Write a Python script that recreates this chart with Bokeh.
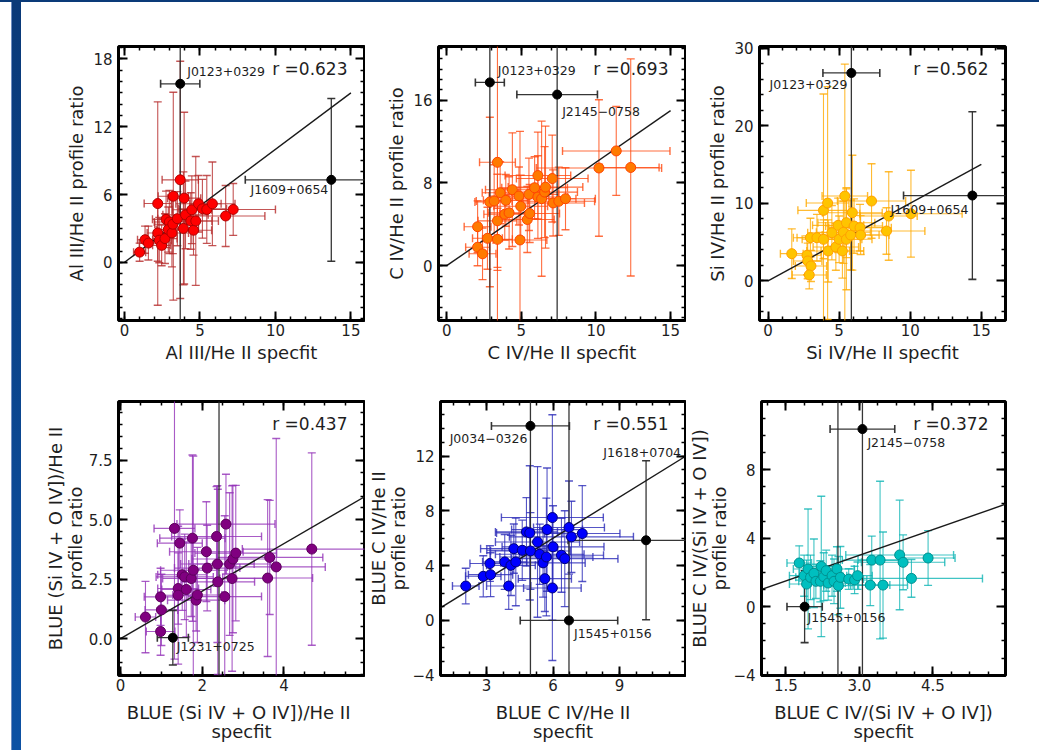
import numpy as np
from bokeh.plotting import figure
from bokeh.models import (Range1d, SingleIntervalTicker, LinearAxis, Label, Div, ColumnDataSource,
                          PrintfTickFormatter)
from bokeh.layouts import row, column
from bokeh.embed import file_html
from bokeh.resources import INLINE

FONT = "DejaVu Sans"
TXT = "#1e1e1e"

# ---------------- data ----------------
# Panel 1: Al III / He II
p1_x = [1.00, 1.36, 1.58, 2.20, 2.20, 2.30, 2.46, 2.68, 2.75, 2.97, 2.90, 3.14, 3.20, 3.23, 3.50,
        3.69, 3.90, 3.95, 4.04, 4.39, 4.46, 4.57, 4.72, 4.90, 5.16, 5.45, 5.82, 6.70, 7.20]
p1_y = [0.90, 2.00, 1.70, 5.20, 2.60, 1.96, 1.50, 2.10, 3.80, 3.57, 2.90, 2.60, 3.37, 5.85, 3.86,
        7.30, 3.00, 5.68, 4.20, 3.66, 4.65, 2.84, 3.66, 5.18, 4.74, 4.68, 5.18, 4.10, 4.68]
p1_xerr = [0.4, 0.5, 0.6, 0.9, 0.7, 0.8, 0.6, 0.8, 0.9, 1.0, 0.8, 1.1, 1.2, 1.0, 1.3,
           1.2, 1.0, 1.1, 1.5, 1.4, 1.3, 1.2, 1.5, 1.5, 1.6, 1.8, 1.5, 2.6, 2.8]
p1_yerr = [0.8, 1.2, 1.5, 9.0, 2.5, 2.0, 1.8, 2.2, 2.5, 2.8, 2.0, 3.0, 2.6, 9.2, 2.4,
           10.5, 5.0, 7.6, 3.0, 2.5, 3.0, 2.2, 5.7, 2.5, 2.6, 3.0, 3.7, 2.7, 2.3]
p1_out_x = [3.69, 13.70]
p1_out_y = [15.80, 7.30]
p1_out_xerr = [1.30, 5.70]
p1_out_yerr = [25.0, 7.20]
p1_out_name = ["J0123+0329", "J1609+0654"]

# Panel 2: C IV / He II
p2_x = [2.07, 2.07, 2.40, 2.73, 2.89, 3.18, 3.40, 3.40, 3.40, 3.58, 3.89, 3.96, 4.18, 4.40, 4.84,
        4.91, 4.96, 5.40, 5.56, 5.51, 5.89, 6.11, 6.11, 6.36, 6.56, 6.62, 7.07, 7.13, 7.51, 7.96,
        10.20, 11.36, 12.33]
p2_y = [3.77, 1.79, 1.15, 2.65, 6.16, 6.26, 10.00, 4.34, 2.55, 7.06, 4.98, 6.32, 5.11, 7.35, 6.74,
        2.49, 5.75, 4.47, 5.05, 6.90, 7.54, 8.72, 6.64, 6.48, 7.12, 7.60, 8.43, 6.07, 6.23, 6.48,
        9.45, 11.10, 9.50]
p2_xerr = [0.9, 0.8, 0.9, 1.0, 1.0, 1.2, 1.2, 1.3, 1.0, 1.2, 1.4, 1.5, 1.4, 1.8, 2.0,
           1.8, 1.8, 1.8, 2.0, 2.0, 2.2, 2.2, 2.0, 2.3, 2.2, 2.5, 2.4, 2.1, 2.4, 2.0,
           4.2, 3.6, 1.9]
p2_yerr = [2.5, 1.8, 2.5, 3.0, 8.2, 3.5, 16.0, 4.5, 3.0, 3.0, 2.5, 2.5, 3.5, 5.5, 2.8,
           10.5, 3.0, 3.2, 2.8, 3.5, 3.0, 4.2, 4.0, 7.5, 4.4, 5.9, 4.2, 3.2, 3.3, 3.0,
           6.6, 4.3, 10.5]
p2_out_x = [2.89, 7.40]
p2_out_y = [17.73, 16.55]
p2_out_xerr = [0.97, 2.70]
p2_out_yerr = [30.0, 30.0]
p2_out_name = ["J0123+0329", "J2145\u22120758"]

# Panel 3: Si IV / He II
p3_x = [1.67, 2.74, 2.79, 2.98, 3.02, 2.90, 3.44, 3.90, 3.90, 4.19, 4.23, 4.49, 4.77, 4.93, 5.00,
        5.23, 5.30, 5.40, 5.51, 5.51, 5.81, 5.93, 6.05, 6.47, 6.51, 7.28, 8.33, 8.49, 10.05]
p3_y = [3.51, 3.30, 2.57, 5.57, 1.93, 0.77, 5.57, 9.09, 5.36, 10.03, 3.86, 6.21, 4.37, 7.16, 5.36,
        3.86, 6.26, 10.93, 7.50, 5.36, 5.91, 8.79, 7.07, 6.86, 5.91, 10.29, 6.43, 8.36, 8.66]
p3_xerr = [0.8, 1.0, 1.0, 1.2, 1.1, 1.2, 1.4, 1.8, 1.5, 1.5, 1.5, 1.7, 1.6, 1.8, 1.6,
           1.5, 1.9, 1.6, 2.0, 1.8, 2.0, 2.1, 2.0, 2.2, 2.0, 2.4, 2.7, 2.0, 3.6]
p3_yerr = [3.2, 2.5, 2.3, 2.5, 2.0, 1.8, 3.0, 15.0, 2.5, 15.0, 4.0, 3.5, 3.0, 3.5, 3.0,
           3.5, 4.0, 17.0, 4.5, 6.5, 4.5, 7.4, 3.5, 3.0, 2.5, 4.8, 3.0, 5.7, 5.6]
p3_out_x = [5.86, 14.37]
p3_out_y = [26.79, 11.00]
p3_out_xerr = [2.00, 4.84]
p3_out_yerr = [40.0, 10.8]
p3_out_name = ["J0123+0329", "J1609+0654"]

# Panel 4: BLUE (Si IV + O IV]) / He II
p4_x = [0.61, 0.98, 1.00, 0.98, 1.32, 1.45, 1.41, 1.41, 1.51, 1.57, 1.61, 1.73, 1.76, 1.78, 1.85,
        1.88, 2.10, 2.12, 2.35, 2.38, 2.37, 2.55, 2.58, 2.67, 2.73, 2.75, 2.82, 3.60, 3.65, 3.81,
        4.68]
p4_y = [0.91, 1.76, 1.21, 0.30, 4.64, 4.02, 2.11, 1.83, 2.69, 2.60, 2.07, 2.53, 4.23, 2.88, 1.62,
        1.84, 3.66, 2.97, 4.30, 2.39, 3.14, 1.77, 4.82, 3.14, 2.53, 3.35, 3.60, 2.55, 3.42, 3.02,
        3.77]
p4_xerr = [0.25, 0.4, 0.4, 0.35, 0.5, 0.55, 0.5, 0.5, 0.6, 0.7, 0.6, 0.7, 0.8, 0.8, 0.7,
           0.6, 0.9, 0.8, 1.1, 0.9, 0.9, 0.9, 1.2, 1.0, 0.9, 1.0, 1.0, 1.1, 1.3, 1.2,
           1.7]
p4_yerr = [1.5, 1.2, 1.5, 1.0, 5.5, 1.4, 1.5, 2.9, 1.5, 1.8, 2.0, 1.6, 3.5, 4.8, 1.3,
           2.0, 2.1, 1.8, 2.1, 3.9, 3.3, 3.4, 2.1, 3.0, 3.9, 3.1, 2.85, 3.3, 2.4, 5.4,
           4.05]
p4_out_x = [1.28, 2.41]
p4_out_y = [0.04, 11.0]
p4_out_xerr = [0.38, 0.30]
p4_out_yerr = [1.15, 14.0]
p4_out_name = ["J1231+0725", ""]

# Panel 5: BLUE C IV / He II
p5_x = [2.06, 2.85, 3.15, 3.18, 3.82, 4.00, 4.10, 4.23, 4.32, 4.61, 4.80, 4.95, 4.98, 5.30, 5.40,
        5.55, 5.63, 5.70, 5.73, 5.97, 6.00, 5.97, 6.38, 6.53, 6.72, 6.83, 7.32]
p5_y = [2.51, 3.22, 4.15, 3.34, 4.27, 2.51, 4.02, 5.24, 4.27, 5.12, 6.46, 6.39, 5.07, 5.73, 4.83,
        4.20, 3.05, 4.63, 6.63, 7.51, 5.37, 2.37, 4.76, 4.51, 6.78, 6.10, 6.34]
p5_xerr = [0.6, 0.8, 0.9, 1.0, 1.0, 1.0, 1.1, 1.5, 1.2, 1.6, 1.4, 1.5, 1.8, 1.9, 2.0,
           1.9, 1.2, 2.1, 1.6, 2.3, 2.3, 1.3, 1.9, 2.4, 1.6, 2.8, 1.7]
p5_yerr = [1.3, 1.5, 1.3, 1.6, 2.0, 1.7, 2.2, 1.8, 3.2, 2.2, 2.5, 4.9, 2.8, 5.5, 2.2,
           2.5, 2.4, 4.3, 4.5, 7.5, 3.0, 5.3, 2.7, 3.5, 3.4, 2.6, 3.5]
p5_out_x = [4.98, 6.72, 10.20]
p5_out_y = [14.20, 0.00, 5.85]
p5_out_xerr = [1.76, 2.20, 3.52]
p5_out_yerr = [25.0, 25.0, 5.80]
p5_out_name = ["J0034\u22120326", "J1545+0156", "J1618+0704"]

# Panel 6: BLUE C IV / (Si IV + O IV])
p6_x = [1.77, 1.87, 1.92, 1.95, 2.00, 2.07, 2.11, 2.22, 2.20, 2.27, 2.32, 2.36, 2.44, 2.48, 2.54,
        2.57, 2.61, 2.78, 2.90, 2.96, 3.22, 3.25, 3.42, 3.48, 3.82, 3.89, 4.06, 4.40]
p6_y = [2.55, 1.81, 1.32, 2.20, 1.71, 1.95, 1.48, 2.35, 1.48, 1.75, 2.10, 1.38, 1.81, 1.48, 2.20,
        1.23, 1.71, 1.61, 1.56, 1.81, 1.26, 2.72, 2.72, 1.26, 3.02, 2.59, 1.65, 2.84]
p6_xerr = [0.25, 0.3, 0.35, 0.3, 0.3, 0.3, 0.35, 0.35, 0.3, 0.35, 0.3, 0.35, 0.3, 0.3, 0.35,
           0.3, 0.3, 0.3, 0.25, 0.3, 0.4, 0.6, 0.45, 0.5, 1.1, 0.85, 1.45, 0.55]
p6_yerr = [1.0, 1.2, 1.4, 3.5, 1.3, 2.0, 1.0, 4.1, 1.2, 1.4, 1.2, 1.0, 1.2, 1.3, 1.3,
           1.7, 1.8, 0.6, 0.8, 0.8, 1.2, 1.4, 4.6, 3.1, 3.2, 1.6, 1.1, 1.6]
p6_out_x = [3.06, 1.88, 2.56]
p6_out_y = [10.37, 0.00, 13.5]
p6_out_xerr = [0.66, 0.36, 0.30]
p6_out_yerr = [20.0, 2.10, 20.0]
p6_out_name = ["J2145\u22120758", "J1545+0156", ""]

r_values = ["0.623", "0.693", "0.562", "0.437", "0.551", "0.372"]
x_labels = ["Al III/He II specfit", "C IV/He II specfit", "Si IV/He II specfit",
            "BLUE  (Si IV + O IV])/He II\nspecfit", "BLUE C IV/He II\nspecfit",
            "BLUE C IV/(Si IV + O IV])\nspecfit"]
y_labels = ["Al III/He II profile ratio", "C IV/He II profile ratio", "Si IV/He II profile ratio",
            "BLUE (Si IV + O IV])/He II\nprofile ratio", "BLUE C IV/He II\nprofile ratio",
            "BLUE C IV/(Si IV + O IV])\nprofile ratio"]
one_to_one = [[0, 15], [0, 15], [0, 15], [0, 6], [0, 12], [0, 6]]

# ---------------- styles ----------------
styles = [
    dict(fill="#ff0000", edge="#b00000", ecol="#b52a2a"),
    dict(fill="#ff7a00", edge="#ff4500", ecol="#ff4a10"),
    dict(fill="#ffc400", edge="#ffa000", ecol="#ffaa00"),
    dict(fill="#800080", edge="#5c005c", ecol="#9432b8"),
    dict(fill="#0000ff", edge="#00007a", ecol="#2a2ab8"),
    dict(fill="#00bfbf", edge="#009090", ecol="#10b5b5"),
]
# label offsets (screen px, right / down) and alignment per outlier
label_pos = [
    [(7, -12, "left"), (-3, 10, "right")],
    [(8, -12, "left"), (5, 17, "left")],
    [(-4, 12, "right"), (-4, 14, "right")],
    [(4, 9, "left"), (0, 0, "left")],
    [(-3, 13, "right"), (5, 13, "left"), (35, -88, "right")],
    [(5, 13, "left"), (3, 11, "left"), (0, 0, "left")],
]
ranges = [((-0.4, 15.9), (-5.15, 19.1)), ((-0.55, 16.0), (-5.3, 21.2)), ((-0.6, 16.7), (-5.1, 30.2)),
          ((-0.05, 5.97), (-1.55, 9.98)), ((0.92, 11.98), (-4.02, 15.98)), ((1.0, 5.98), (-4.02, 11.98))]
ticks = [((5, 5), (6, 6)), ((5, 5), (8, 8)), ((5, 5), (10, 5)),
         ((2, 4), (2.5, 5)), ((3, 4), (4, 4)), ((1.5, 4), (4, 4))]
one_decimal = [(False, False), (False, False), (False, False),
               (False, True), (False, False), (True, False)]
col_geom = [(340, 93, 1), (321, 73, 1), (352, 73, 33)]   # width, border left, border right
row_geom = [(378, 44, 60), (370, 21, 75)]                  # height, border top, border bottom
x_label_standoff = [3, 8]
y_label_standoff = [3, 0]

data = [
    (p1_x, p1_y, p1_xerr, p1_yerr, p1_out_x, p1_out_y, p1_out_xerr, p1_out_yerr, p1_out_name),
    (p2_x, p2_y, p2_xerr, p2_yerr, p2_out_x, p2_out_y, p2_out_xerr, p2_out_yerr, p2_out_name),
    (p3_x, p3_y, p3_xerr, p3_yerr, p3_out_x, p3_out_y, p3_out_xerr, p3_out_yerr, p3_out_name),
    (p4_x, p4_y, p4_xerr, p4_yerr, p4_out_x, p4_out_y, p4_out_xerr, p4_out_yerr, p4_out_name),
    (p5_x, p5_y, p5_xerr, p5_yerr, p5_out_x, p5_out_y, p5_out_xerr, p5_out_yerr, p5_out_name),
    (p6_x, p6_y, p6_xerr, p6_yerr, p6_out_x, p6_out_y, p6_out_xerr, p6_out_yerr, p6_out_name),
]


def style_axis(ax, show, label, decimal):
    ax.axis_line_color = None
    ax.major_tick_in = 9
    ax.major_tick_out = 0
    ax.minor_tick_in = 4
    ax.minor_tick_out = 0
    ax.major_tick_line_width = 2
    ax.minor_tick_line_width = 1.5
    ax.major_tick_line_color = "black"
    ax.minor_tick_line_color = "black"
    if show:
        if decimal:
            ax.formatter = PrintfTickFormatter(format="%.1f")
        ax.major_label_text_font = FONT
        ax.major_label_text_font_size = "15px"
        ax.major_label_text_color = TXT
        ax.major_label_overrides = {-4: "\u22124"}
        ax.axis_label = label
        ax.axis_label_text_font = FONT
        ax.axis_label_text_font_size = "18px"
        ax.axis_label_text_font_style = "normal"
        ax.axis_label_text_color = TXT
        ax.axis_label_text_line_height = 0.95
    else:
        ax.major_label_text_font_size = "1px"
        ax.major_label_text_color = None
        ax.major_label_standoff = 0


def errorbars(p, x, y, xe, ye, color, alpha, lw):
    src = ColumnDataSource(dict(x=x, y=y, xl=x - xe, xh=x + xe, yl=y - ye, yh=y + ye))
    p.segment(x0="xl", x1="xh", y0="y", y1="y", source=src, line_color=color, line_alpha=alpha, line_width=lw)
    p.segment(x0="x", x1="x", y0="yl", y1="yh", source=src, line_color=color, line_alpha=alpha, line_width=lw)
    for yy in ("yl", "yh"):
        p.scatter(x="x", y=yy, source=src, marker="dash", size=8, line_color=color,
                  line_alpha=alpha, line_width=lw + 0.3)
    for xx in ("xl", "xh"):
        p.scatter(x=xx, y="y", source=src, marker="dash", angle=np.pi / 2, size=8,
                  line_color=color, line_alpha=alpha, line_width=lw + 0.3)


def make_panel(i):
    r, c = divmod(i, 3)
    w, bl, br = col_geom[c]
    h, bt, bb = row_geom[r]
    xr, yr = ranges[i]
    (xs, xm), (ys, ym) = ticks[i]
    xdec, ydec = one_decimal[i]
    p = figure(width=w, height=h, x_range=Range1d(*xr), y_range=Range1d(*yr),
               x_axis_type=None, y_axis_type=None, output_backend="svg", toolbar_location=None,
               min_border_left=bl, min_border_right=br, min_border_top=bt, min_border_bottom=bb)
    p.outline_line_color = "black"
    p.outline_line_width = 3
    p.background_fill_color = "white"
    p.border_fill_color = "white"
    xt = SingleIntervalTicker(interval=xs, num_minor_ticks=xm)
    yt = SingleIntervalTicker(interval=ys, num_minor_ticks=ym)
    for side, tk, show, lab, dec in (("below", xt, True, x_labels[i], xdec),
                                     ("left", yt, True, y_labels[i], ydec),
                                     ("above", xt, False, None, False),
                                     ("right", yt, False, None, False)):
        ax = LinearAxis(ticker=tk)
        style_axis(ax, show, lab, dec)
        if side == "below":
            ax.major_label_standoff = 3
            ax.axis_label_standoff = x_label_standoff[r]
        elif side == "left":
            ax.major_label_standoff = 6
            ax.axis_label_standoff = y_label_standoff[r]
        p.add_layout(ax, side)

    x, y, xe, ye, ox, oy, oxe, oye, names = [np.array(a) if k < 8 else a for k, a in enumerate(data[i])]
    st = styles[i]
    errorbars(p, x, y, xe, ye, st["ecol"], 0.8, 1.1)
    errorbars(p, ox, oy, oxe, oye, "#2b2b2b", 0.95, 1.3)
    p.line(one_to_one[i], one_to_one[i], line_color="#1a1a1a", line_width=1.4)
    p.scatter(x, y, size=10, fill_color=st["fill"], line_color=st["edge"], line_width=1)
    p.scatter(ox, oy, size=9, fill_color="black", line_color="black")
    for k, name in enumerate(names):
        if not name:
            continue
        dx, dy, al = label_pos[i][k]
        p.add_layout(Label(x=ox[k], y=oy[k], text=name, x_offset=dx, y_offset=-dy,
                           text_align=al, text_baseline="middle", text_font=FONT,
                           text_font_size="12.5px", text_color=TXT))
    p.add_layout(Label(x=xr[1], y=yr[1], text="r =" + r_values[i], x_offset=-17, y_offset=-22,
                       text_align="right", text_baseline="middle", text_font=FONT,
                       text_font_size="17px", text_color=TXT))
    return p


panels = [make_panel(i) for i in range(6)]

top_band = Div(text="", width=1039, height=2, margin=0,
               styles={"background-color": "#0a3a78"})
left_bar = Div(text="", width=25, height=748, margin=0,
               styles={"background": "linear-gradient(#6d8cc0, #6d8cc0) 11px 0 / 1px 100% no-repeat, "
                                     "linear-gradient(to bottom, #0a3978, #0d51a3) 12px 0 / 9px 100% no-repeat"})
grid = column(row(*panels[:3]), row(*panels[3:]))
layout = column(top_band, row(left_bar, grid))

with open("out.html", "w") as f:
    f.write(file_html(layout, INLINE))
